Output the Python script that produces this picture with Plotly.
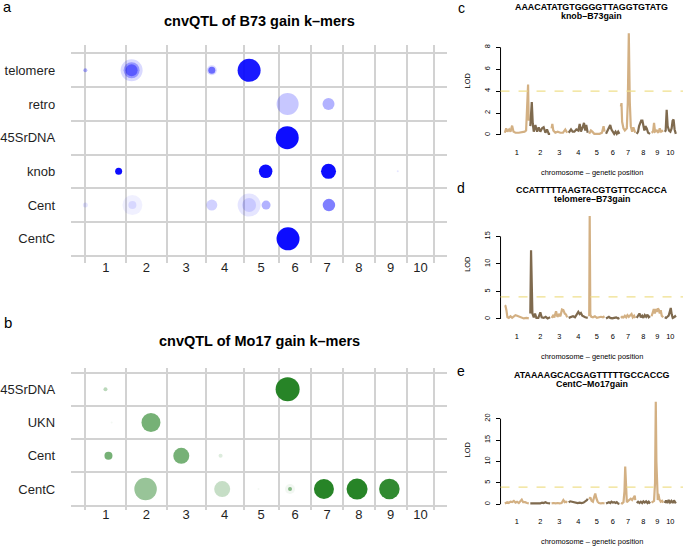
import plotly.graph_objects as go

FONT = "Liberation Sans, Arial, Helvetica, sans-serif"
W, H = 685, 547

# ---------------- data: panels a / b (bubble grids) ----------------
chrom_names = ["1", "2", "3", "4", "5", "6", "7", "8", "9", "10"]
chrom_len_ab = [207, 201, 196, 190, 177, 163, 159, 158, 160, 140]

a_rows = ["telomere", "retro", "45SrDNA", "knob", "Cent", "CentC"]
a_row = ["telomere", "telomere", "telomere", "telomere", "telomere", "telomere", "telomere",
         "retro", "retro",
         "45SrDNA",
         "knob", "knob", "knob", "knob",
         "Cent", "Cent", "Cent", "Cent", "Cent", "Cent", "Cent", "Cent",
         "CentC"]
a_chr = [1, 2, 2, 2, 4, 4, 5,
         6, 7,
         6,
         1, 5, 7, 9,
         1, 2, 2, 4, 5, 5, 5, 7,
         6]
a_pos = [1, 26, 26, 26, 31, 31, 28,
         44, 86,
         42,
         168, 111, 86, 116,
         1, 30, 30, 31, 28, 28, 113, 88,
         46]
a_size = [4, 22, 16, 12, 10, 7, 23,
          22, 12,
          23,
          7, 13.5, 15, 2,
          5, 20, 8, 11, 23, 14, 9, 12.5,
          23]
a_alpha = [0.3, 0.15, 0.3, 0.4, 0.15, 0.5, 0.9,
           0.22, 0.3,
           0.95,
           0.95, 0.95, 0.95, 0.1,
           0.1, 0.06, 0.1, 0.18, 0.1, 0.12, 0.3, 0.5,
           0.95]

b_rows = ["45SrDNA", "UKN", "Cent", "CentC"]
b_row = ["45SrDNA", "45SrDNA",
         "UKN", "UKN",
         "Cent", "Cent", "Cent",
         "CentC", "CentC", "CentC", "CentC", "CentC", "CentC", "CentC", "CentC"]
b_chr = [1, 6,
         1, 2,
         1, 3, 4,
         2, 4, 5, 6, 6, 7, 8, 9]
b_pos = [102, 44,
         133, 123,
         117, 74, 75,
         96, 83, 75, 56, 56, 63, 70, 74]
b_size = [4, 24,
          2, 19,
          8, 16, 4,
          22.5, 16, 2, 10, 4, 20, 21, 20.5]
b_alpha = [0.3, 0.95,
           0.05, 0.6,
           0.6, 0.6, 0.15,
           0.45, 0.25, 0.05, 0.06, 0.5, 0.95, 0.95, 0.9]

# ---------------- data: panels c / d / e (LOD profiles) ----------------
chrom_len_cM = [194, 160, 126, 154, 124, 108, 116, 108, 94, 90]
gap_cM = 12

c_title = ["AAACATATGTGGGGTTAGGTGTATG", "knob\u2013B73gain"]
c_pos = [[0, 11, 21, 35, 46, 59, 70, 86, 113, 140, 160, 172, 180, 188, 192, 194],
         [0, 4, 12, 20, 28, 41, 55, 68, 81, 95, 108, 122, 135, 149, 160],
         [0, 6, 14, 30, 49, 71, 92, 111, 126],
         [0, 5, 19, 32, 46, 62, 78, 89, 99, 110, 124, 134, 142, 154],
         [0, 14, 25, 41, 62, 84, 103, 116, 124],
         [0, 12, 23, 34, 44, 55, 66, 77, 87, 98, 108],
         [0, 5, 10, 21, 32, 48, 56, 64, 72, 80, 91, 101, 116],
         [0, 11, 19, 28, 36, 46, 54, 62, 70, 81, 92, 108],
         [0, 12, 20, 28, 42, 55, 66, 77, 94],
         [0, 8, 16, 24, 35, 46, 56, 64, 72, 80, 90]]
c_lod = [[0.2, 0.6, 0.3, 0.5, 0.3, 0.85, 0.3, 0.2, 0.2, 0.25, 0.3, 0.4, 2.5, 4.6, 2.0, 1.3],
         [0.8, 1.5, 3.0, 1.0, 0.3, 0.9, 0.3, 0.7, 0.3, 0.6, 0.7, 0.2, 0.5, 0.1, 0.1],
         [0.6, 1.0, 0.4, 0.2, 0.3, 0.2, 0.2, 0.5, 0.2],
         [0.2, 0.3, 0.5, 0.3, 0.3, 0.5, 0.4, 1.0, 0.3, 0.6, 1.1, 0.4, 0.9, 0.2],
         [0.1, 0.4, 0.3, 0.1, 0.1, 0.1, 0.2, 0.8, 0.3],
         [0.1, 0.4, 0.7, 0.9, 0.5, 0.3, 0.1, 0.3, 0.1, 0.3, 0.1],
         [2.6, 2.9, 1.2, 0.6, 0.4, 0.6, 3.0, 9.28, 3.0, 0.8, 0.3, 0.7, 0.2],
         [0.1, 0.3, 0.8, 1.0, 1.3, 1.3, 0.9, 0.4, 0.8, 0.6, 0.2, 0.1],
         [0.2, 0.3, 1.1, 0.3, 0.4, 0.2, 0.6, 0.3, 0.4],
         [0.3, 0.4, 2.3, 0.8, 0.4, 0.3, 0.6, 1.3, 1.4, 0.5, 0.1]]
c_ticks = [0, 2, 4, 6, 8]

d_title = ["CCATTTTTAAGTACGTGTTCCACCA", "telomere\u2013B73gain"]
d_pos = [[0, 5, 13, 21, 32, 46, 59, 73, 86, 99, 113, 126, 140, 153, 175, 194],
         [0, 6, 17, 28, 38, 49, 65, 81, 92, 108, 124, 140, 160],
         [0, 12, 22, 36, 47, 60, 71, 84, 95, 106, 117, 126],
         [0, 19, 35, 51, 67, 78, 89, 99, 110, 121, 134, 154],
         [0, 4, 9, 17, 30, 46, 62, 78, 95, 111, 124],
         [0, 12, 23, 34, 50, 66, 82, 98, 108],
         [0, 10, 21, 32, 43, 53, 64, 75, 86, 96, 107, 116],
         [0, 11, 22, 33, 44, 54, 65, 76, 87, 97, 108],
         [0, 10, 18, 26, 34, 42, 50, 58, 66, 74, 82, 94],
         [0, 11, 22, 32, 43, 49, 57, 65, 75, 84, 90]]
d_lod = [[2.5, 2.4, 1.6, 0.3, 0.2, 0.5, 0.2, 0.4, 0.7, 0.6, 0.5, 0.3, 0.2, 0.1, 0.2, 0.1],
         [1.0, 12.5, 1.0, 0.3, 1.0, 0.2, 0.2, 1.2, 0.3, 0.2, 0.4, 0.1, 0.3],
         [0.2, 0.6, 0.3, 1.4, 0.4, 0.8, 0.5, 1.7, 1.6, 1.0, 0.8, 0.3],
         [0.2, 0.3, 0.5, 0.3, 0.8, 1.3, 0.9, 1.1, 0.6, 0.4, 0.3, 0.2],
         [0.5, 18.7, 0.8, 0.4, 0.3, 0.5, 0.2, 0.3, 0.4, 0.3, 0.5],
         [0.1, 0.2, 0.4, 0.2, 0.1, 0.2, 0.3, 0.1, 0.2],
         [0.2, 0.4, 0.3, 0.6, 0.3, 0.7, 0.4, 0.6, 0.9, 0.3, 0.6, 0.2],
         [0.2, 0.5, 1.0, 0.3, 0.6, 0.2, 0.7, 0.4, 0.8, 0.3, 0.5],
         [0.5, 1.5, 1.8, 1.0, 1.8, 1.3, 1.9, 1.7, 1.0, 1.6, 0.6, 0.3],
         [0.3, 0.2, 0.4, 0.6, 1.5, 2.0, 0.8, 0.2, 0.3, 0.5, 0.3]]
d_ticks = [0, 5, 10, 15]

e_title = ["ATAAAAGCACGAGTTTTTGCCACCG", "CentC\u2013Mo17gain"]
e_pos = [[0, 5, 19, 32, 46, 59, 73, 86, 99, 113, 126, 137, 148, 164, 180, 194],
         [0, 28, 55, 81, 95, 108, 122, 135, 160],
         [0, 17, 33, 49, 65, 81, 95, 106, 117, 126],
         [0, 13, 27, 40, 56, 73, 89, 105, 121, 137, 148, 154],
         [0, 9, 19, 30, 41, 49, 57, 68, 79, 95, 111, 124],
         [0, 12, 23, 34, 44, 55, 66, 77, 87, 98, 108],
         [0, 10, 21, 29, 35, 40, 48, 59, 70, 80, 91, 102, 112, 116],
         [0, 11, 22, 33, 44, 54, 65, 76, 87, 97, 108],
         [0, 12, 20, 28, 34, 39, 44, 50, 55, 63, 74, 85, 94],
         [0, 11, 22, 32, 43, 54, 65, 75, 90]]
e_lod = [[0.2, 0.3, 0.5, 0.3, 0.6, 0.5, 0.8, 0.4, 0.6, 0.3, 0.8, 1.1, 0.5, 0.5, 0.3, 0.2],
         [0.2, 0.2, 0.3, 0.2, 0.4, 0.3, 0.5, 0.3, 0.2],
         [0.2, 0.3, 0.2, 0.3, 0.2, 0.3, 1.0, 0.5, 0.6, 0.4],
         [0.5, 0.7, 0.6, 0.5, 0.4, 0.3, 0.4, 0.3, 0.4, 0.7, 1.0, 1.3],
         [1.2, 1.6, 0.8, 0.6, 1.8, 2.5, 1.5, 0.6, 0.3, 0.2, 0.3, 0.2],
         [0.2, 0.4, 0.5, 0.3, 0.6, 0.4, 0.5, 0.3, 0.5, 0.2, 0.1],
         [0.3, 0.2, 0.5, 3.0, 8.8, 3.0, 0.5, 0.8, 1.2, 1.3, 1.0, 1.6, 2.0, 1.0],
         [0.3, 0.6, 0.3, 0.6, 0.3, 0.7, 0.4, 0.7, 0.3, 0.6, 0.2],
         [0.4, 0.6, 0.8, 5.0, 23.97, 10.0, 2.5, 1.0, 2.4, 1.2, 0.6, 0.8, 0.4],
         [0.3, 0.9, 0.3, 1.0, 0.4, 0.8, 0.3, 0.9, 0.2]]
e_ticks = [0, 5, 10, 15, 20]

lod_threshold = 4

# ---------------- styles ----------------
BLUE = "#0000ff"
GREEN = "#1b7d1b"
GRID = "#d2d2d2"
LIGHT = "#d3b083"
DARK = "#7f6a4e"
THRESH = "#efe08c"
TEXT = "#1f1f1f"


def px(x):
    return x / W


def py(y):
    return 1 - y / H


def note(text, x, y, size, angle=0, xanchor="center"):
    return dict(text=text, x=px(x), y=py(y), xref="paper", yref="paper",
                showarrow=False, xanchor=xanchor, yanchor="middle", textangle=angle,
                font=dict(family=FONT, size=size, color="#000000"))


fig = go.Figure()

# ----- bubble panels -----
starts_ab = [sum(chrom_len_ab[:i]) for i in range(len(chrom_len_ab))]
total_ab = sum(chrom_len_ab)
bounds_ab = starts_ab + [total_ab]
mids_ab = [s + l / 2 for s, l in zip(starts_ab, chrom_len_ab)]


def bubble_panel(rows, row, chr_, pos, size, alpha, color, xa, ya):
    n = len(rows)
    yidx = [n - rows.index(r) for r in row]
    xs = [starts_ab[c - 1] + p for c, p in zip(chr_, pos)]
    fig.add_trace(go.Scatter(
        x=xs, y=yidx, mode="markers", xaxis=xa, yaxis=ya, showlegend=False,
        hoverinfo="skip",
        marker=dict(size=size, color=color, opacity=alpha, line=dict(width=0))))


bubble_panel(a_rows, a_row, a_chr, a_pos, a_size, a_alpha, BLUE, "x", "y")
bubble_panel(b_rows, b_row, b_chr, b_pos, b_size, b_alpha, GREEN, "x2", "y2")


def bubble_xaxis(dom_y_anchor):
    return dict(
        domain=[px(69), px(446.7)], anchor=dom_y_anchor,
        range=[-0.041 * total_ab, total_ab * 1.037],
        tickmode="array", tickvals=mids_ab, ticktext=chrom_names,
        showgrid=False, zeroline=False, showline=False,
        ticks="", ticklabelstandoff=-5,
        tickfont=dict(family=FONT, size=13, color=TEXT),
        minor=dict(tickmode="array", tickvals=bounds_ab, showgrid=True,
                   gridcolor=GRID, gridwidth=1.5, ticks=""),
        fixedrange=True)


def bubble_yaxis(rows, rng, dom, xa):
    n = len(rows)
    return dict(
        domain=dom, anchor=xa, range=rng,
        tickmode="array", tickvals=[n - i for i in range(n)], ticktext=rows,
        showgrid=False, zeroline=False, showline=False,
        ticks="outside", ticklen=12, tickcolor="rgba(0,0,0,0)",
        tickfont=dict(family=FONT, size=13, color=TEXT),
        minor=dict(tickmode="array", tickvals=[i + 0.5 for i in range(n + 1)],
                   showgrid=True, gridcolor=GRID, gridwidth=1.5, ticks=""),
        fixedrange=True)


layout = dict(
    width=W, height=H, margin=dict(l=0, r=0, t=0, b=0),
    paper_bgcolor="white", plot_bgcolor="white", showlegend=False,
    font=dict(family=FONT, color="#000000"),
    xaxis=bubble_xaxis("y"),
    yaxis=bubble_yaxis(a_rows, [0.29, 6.75], [py(262.7), py(45)], "x"),
    xaxis2=bubble_xaxis("y2"),
    yaxis2=bubble_yaxis(b_rows, [0.37, 4.65], [py(510), py(367.7)], "x2"),
)

# ----- LOD panels -----
starts_cM = []
acc = 0
for L in chrom_len_cM:
    starts_cM.append(acc)
    acc += L + gap_cM
total_cM = starts_cM[-1] + chrom_len_cM[-1]
mids_cM = [s + L / 2 for s, L in zip(starts_cM, chrom_len_cM)]

shapes = []
annotations = []

lod_panels = [
    (c_pos, c_lod, c_ticks, c_title, 29.2, 139.0, 3),
    (d_pos, d_lod, d_ticks, d_title, 211.9, 323.1, 4),
    (e_pos, e_lod, e_ticks, e_title, 397.6, 508.4, 5),
]

x_left, x_right = 500.0, 683.0
for pos, lod, ticks, title, top, bot, k in lod_panels:
    xa, ya = "x%d" % k, "y%d" % k
    for i in range(len(chrom_len_cM)):
        fig.add_trace(go.Scatter(
            x=[starts_cM[i] + p for p in pos[i]], y=lod[i], mode="lines",
            xaxis=xa, yaxis=ya, showlegend=False, hoverinfo="skip",
            line=dict(color=LIGHT if i % 2 == 0 else DARK, width=2.2)))
    ymax = max(max(v) for v in lod)
    layout["xaxis%d" % k] = dict(
        domain=[px(x_left), px(x_right)], anchor=ya,
        range=[-0.025 * total_cM, 1.042 * total_cM],
        tickmode="array", tickvals=mids_cM, ticktext=chrom_names,
        showgrid=False, zeroline=False, showline=False,
        ticks="outside", ticklen=6, tickcolor="rgba(0,0,0,0)",
        tickfont=dict(family=FONT, size=7.4, color="#000000"), fixedrange=True)
    layout["yaxis%d" % k] = dict(
        domain=[py(bot), py(top)], anchor=xa,
        range=[-0.04 * ymax, 1.04 * ymax],
        tickmode="array", tickvals=ticks, ticktext=[str(t) for t in ticks],
        tickangle=-90, showgrid=False, zeroline=False, showline=False,
        ticks="outside", ticklen=4, tickwidth=1, tickcolor="#000000",
        ticklabelstandoff=3,
        tickfont=dict(family=FONT, size=7.4, color="#000000"), fixedrange=True)
    # y axis line spanning the tick range (R style)
    shapes.append(dict(type="line", xref="%s domain" % xa, yref=ya,
                       x0=0, x1=0, y0=ticks[0], y1=ticks[-1],
                       line=dict(color="#000000", width=1)))
    # threshold
    shapes.append(dict(type="line", xref="%s domain" % xa, yref=ya,
                       x0=0, x1=1, y0=lod_threshold, y1=lod_threshold,
                       line=dict(color=THRESH, width=1.2, dash="dash")))
    annotations.append(note("<b>%s</b>" % title[0], 591.5, top - 22.2, 8.9))
    annotations.append(note("<b>%s</b>" % title[1], 591.5, top - 13.3, 8.9))
    annotations.append(note("chromosome \u2013 genetic position", 591.5, bot + 33, 7.4))
    annotations.append(note("LOD", 466.7, (top + bot) / 2 - 3, 7.4, angle=-90))

# panel titles and letters
annotations += [
    note("<b>cnvQTL of B73 gain k\u2013mers</b>", 258, 20.6, 14.5),
    note("<b>cnvQTL of Mo17 gain k\u2013mers</b>", 258, 340.8, 14.5),
    note("a", 6, 7.5, 14.5),
    note("b", 6, 322.8, 15),
    note("c", 461, 8, 14),
    note("d", 460, 188, 14),
    note("e", 460.5, 371, 14),
]

layout["shapes"] = shapes
layout["annotations"] = annotations
fig.update_layout(**layout)
fig.write_html("out.html", config={"displayModeBar": False},
               post_script="document.body.style.margin='0px';")
